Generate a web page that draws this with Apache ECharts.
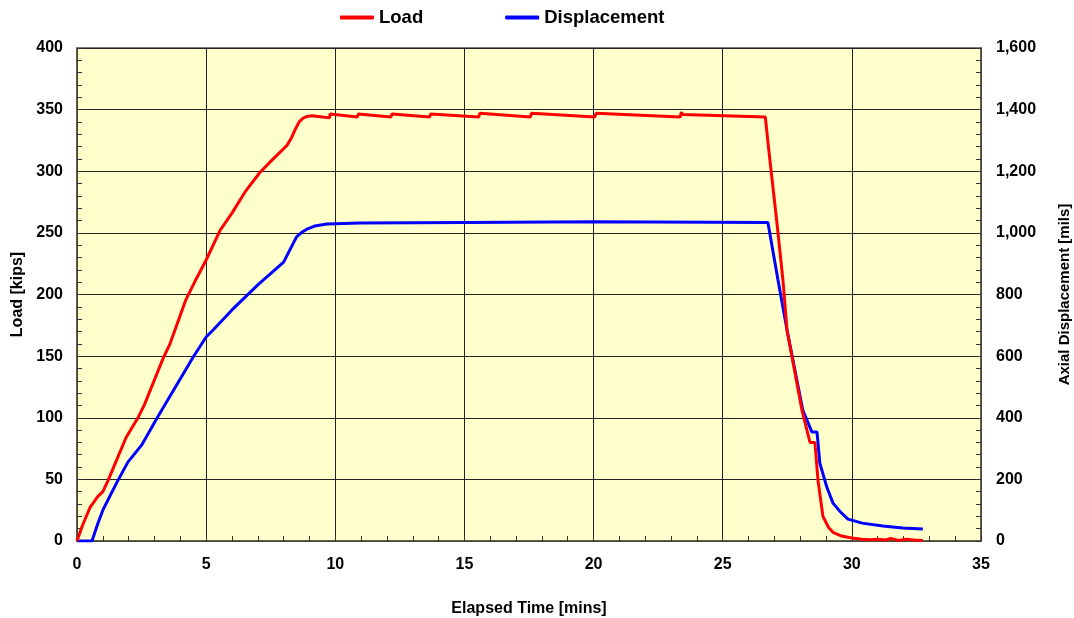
<!DOCTYPE html>
<html><head><meta charset="utf-8">
<script src="https://cdn.jsdelivr.net/npm/echarts@6/dist/echarts.min.js"></script>
<style>html,body{margin:0;padding:0;background:#fff}#c{width:1074px;height:618px}</style>
</head><body><div id="c"></div>
<script>
// Load [kips] vs elapsed time [mins]
const loadTime = [0,0.2,0.5,0.8,1.0,1.2,1.5,1.9,2.36,2.6,2.83,3.1,3.33,3.6,3.79,4.2,4.6,5.0,5.54,6.0,6.5,7.08,7.5,8.13,8.3,8.45,8.6,8.75,8.9,9.1,9.5,9.78,9.8,9.85,10.85,10.9,10.95,12.15,12.2,12.25,13.65,13.7,13.75,15.55,15.6,15.65,17.55,17.6,17.65,20.05,20.1,20.15,23.35,23.4,23.45,26.65,26.72,26.78,27.1,27.33,27.49,28.07,28.38,28.57,28.69,28.88,29.1,29.27,29.6,30.0,30.4,30.7,31.0,31.3,31.5,31.8,32.1,32.4,32.75];
const loadValue = [0,12,27,36,40,49,64,84,100,110,122,136,148,160,171,195,212,228,252,266,283,299,308,321,327,334,340,343,344.5,345,344,343.5,346.5,345,344,346.5,345,344,346.5,345,344,346.5,345,344,347,345.5,344,347,345.5,344,347,345.5,344,348,346,344,344,318,258,212,171,106,80,80,49,20,11,7,4,2.4,1.5,1,1.5,0.8,2,0.5,1.5,0.8,0.5];
// Axial displacement [mils] vs elapsed time [mins]
const dispTime = [0,0.58,0.8,1.0,1.3,1.55,1.97,2.5,3.1,3.8,4.5,5.0,5.27,6.0,7.0,8.0,8.5,8.7,8.9,9.2,9.68,10.96,15,20,26.75,27.14,27.49,28.1,28.45,28.65,28.76,29.03,29.27,29.55,29.85,30.4,31.2,31.97,32.75];
const dispValue = [0,0,55,100,150,191,256,311,399,498,597,662,685,750,831,905,987,1002,1012,1022,1029,1032,1034,1036,1034,847,685,425,354,354,253,175,123,95,71,58,49,42,39];

const loadSeries = loadTime.map((t,i)=>[t,loadValue[i]]);
const dispSeries = dispTime.map((t,i)=>[t,dispValue[i]]);

const chart = echarts.init(document.getElementById('c'), null, {renderer:'canvas'});
const FF = 'Liberation Sans, Arial, sans-serif';
const lblFont = {fontFamily:FF, fontWeight:'bold', fontSize:16, color:'#000'};
const nameFont = {fontFamily:FF, fontWeight:'bold', fontSize:16, color:'#000'};
chart.setOption({
  animation:false,
  backgroundColor:'#fff',
  legend:{
    top:3, left:335, itemWidth:34, itemHeight:4, itemGap:82,
    icon:'roundRect',
    textStyle:{fontFamily:FF, fontWeight:'bold', fontSize:18.5, color:'#000', padding:[0,0,0,0]},
    data:['Load','Displacement']
  },
  grid:{left:77, right:93, top:48, bottom:77, show:true, outerBoundsMode:'none', containLabel:false,
        backgroundColor:'#FFFFCC', borderColor:'#555544', borderWidth:1.5},
  xAxis:{
    type:'value', min:0, max:35, interval:5,
    name:'Elapsed Time [mins]', nameLocation:'middle', nameGap:60,
    nameTextStyle:nameFont,
    axisLine:{show:true, onZero:false, lineStyle:{color:'#555544', width:1.5}},
    axisTick:{show:true, inside:true, length:5, lineStyle:{color:'#333'}},
    minorTick:{show:true, splitNumber:5, length:5, lineStyle:{color:'#333'}},
    axisLabel:Object.assign({margin:16}, lblFont),
    splitLine:{show:true, lineStyle:{color:'#222', width:1}}
  },
  yAxis:[{
    type:'value', min:0, max:400, interval:50, position:'left',
    name:'Load [kips]', nameLocation:'middle', nameGap:50, nameRotate:90,
    nameTextStyle:nameFont,
    axisLine:{show:true, lineStyle:{color:'#555544', width:1.5}},
    axisTick:{show:true, inside:true, length:5, lineStyle:{color:'#333'}},
    minorTick:{show:true, splitNumber:5, length:5, lineStyle:{color:'#333'}},
    axisLabel:Object.assign({margin:14}, lblFont),
    splitLine:{show:true, lineStyle:{color:'#222', width:1}}
  },{
    type:'value', min:0, max:1600, interval:200, position:'right',
    name:'Axial Displacement [mils]', nameLocation:'middle', nameGap:76, nameRotate:90,
    nameTextStyle:Object.assign({}, nameFont, {fontSize:15}),
    axisLine:{show:true, lineStyle:{color:'#555544', width:1.5}},
    axisTick:{show:true, inside:true, length:5, lineStyle:{color:'#333'}},
    minorTick:{show:true, splitNumber:5, length:5, lineStyle:{color:'#333'}},
    axisLabel:Object.assign({margin:15, formatter:v=>v.toLocaleString('en-US')}, lblFont),
    splitLine:{show:false}
  }],
  series:[{
    name:'Load', type:'line', yAxisIndex:0, data:loadSeries, showSymbol:false,
    lineStyle:{color:'#FF0000', width:3}, itemStyle:{color:'#FF0000'}, z:3
  },{
    name:'Displacement', type:'line', yAxisIndex:1, data:dispSeries, showSymbol:false,
    lineStyle:{color:'#0000FF', width:3}, itemStyle:{color:'#0000FF'}, z:2
  }]
});
</script></body></html>
